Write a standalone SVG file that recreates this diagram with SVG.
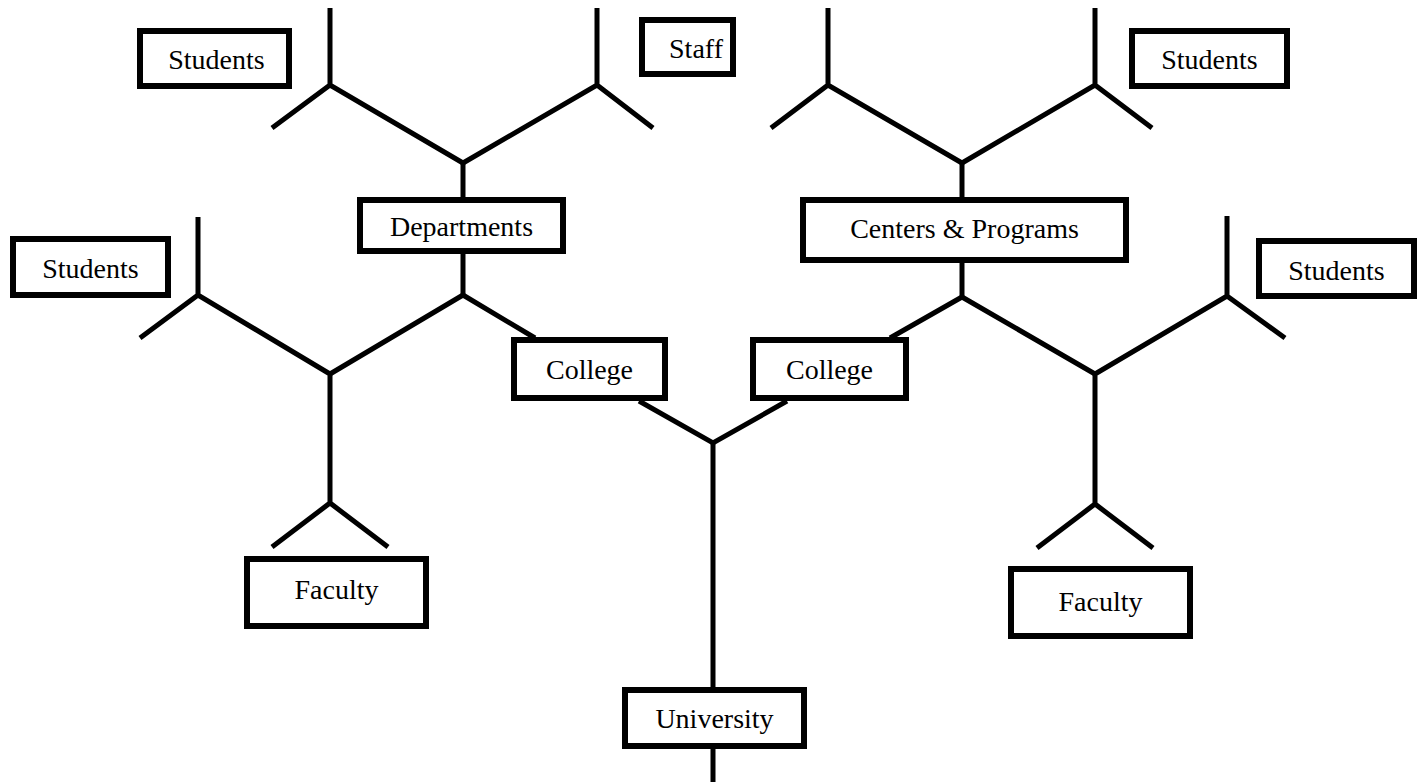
<svg xmlns="http://www.w3.org/2000/svg" width="1419" height="782" viewBox="0 0 1419 782">
  <style>
    .box { fill: #ffffff; stroke: #000000; stroke-width: 6; }
    .lbl { font-family: "Liberation Serif", "Times New Roman", serif; font-size: 28px; fill: #000000; text-anchor: middle; dominant-baseline: central; }
    .wire { fill: none; stroke: #000000; stroke-width: 5; stroke-linejoin: miter; stroke-linecap: butt; }
  </style>
  <rect width="1419" height="782" fill="#ffffff"/>

  <!-- tree branches -->
  <g id="connectors">
    <!-- trunk -->
    <path class="wire" d="M713,782 V443"/>
    <path class="wire" d="M639,401 L713,443 L787,401"/>
    <!-- left college limb -->
    <path class="wire" d="M535,338 L463,295 L330,374"/>
    <path class="wire" d="M463,295 V252"/>
    <path class="wire" d="M463,197 V163"/>
    <path class="wire" d="M330,8 V85 M272,128 L330,85 L463,163 L597,85 L653,128 M597,85 V8"/>
    <path class="wire" d="M198,217 V295 M140,338 L198,295 L330,374 V503 M272,547 L330,503 L388,547"/>
    <!-- right college limb -->
    <path class="wire" d="M890,338 L962,297 L1095,374"/>
    <path class="wire" d="M962,297 V262"/>
    <path class="wire" d="M962,197 V163"/>
    <path class="wire" d="M828,8 V85 M771,128 L828,85 L962,163 L1095,85 L1152,128 M1095,85 V8"/>
    <path class="wire" d="M1227,216 V296 M1285,338 L1227,296 L1095,374 V504 M1037,548 L1095,504 L1153,548"/>
  </g>

  <g id="university">
    <rect class="box" x="625" y="690" width="179" height="56"/>
    <text class="lbl" x="714.5" y="718">University</text>
  </g>
  <g id="college-left">
    <rect class="box" x="514" y="340" width="151" height="58"/>
    <text class="lbl" x="589.5" y="369">College</text>
  </g>
  <g id="college-right">
    <rect class="box" x="753" y="340" width="153" height="58"/>
    <text class="lbl" x="829.5" y="369">College</text>
  </g>
  <g id="departments">
    <rect class="box" x="360" y="200" width="203" height="51"/>
    <text class="lbl" x="461.5" y="226">Departments</text>
  </g>
  <g id="centers-programs">
    <rect class="box" x="803" y="200" width="323" height="60"/>
    <text class="lbl" x="964.5" y="228">Centers &amp; Programs</text>
  </g>
  <g id="students-top-left">
    <rect class="box" x="140" y="31" width="149" height="55"/>
    <text class="lbl" x="216.5" y="59">Students</text>
  </g>
  <g id="staff">
    <rect class="box" x="642" y="20" width="91" height="54"/>
    <text class="lbl" x="696" y="48">Staff</text>
  </g>
  <g id="students-top-right">
    <rect class="box" x="1132" y="31" width="155" height="55"/>
    <text class="lbl" x="1209.5" y="59">Students</text>
  </g>
  <g id="students-left">
    <rect class="box" x="13" y="239" width="155" height="56"/>
    <text class="lbl" x="90.5" y="268">Students</text>
  </g>
  <g id="students-right">
    <rect class="box" x="1259" y="241" width="155" height="55"/>
    <text class="lbl" x="1336.5" y="270">Students</text>
  </g>
  <g id="faculty-left">
    <rect class="box" x="247" y="559" width="179" height="67"/>
    <text class="lbl" x="336.5" y="589">Faculty</text>
  </g>
  <g id="faculty-right">
    <rect class="box" x="1011" y="569" width="179" height="67"/>
    <text class="lbl" x="1100.5" y="601">Faculty</text>
  </g>
</svg>
